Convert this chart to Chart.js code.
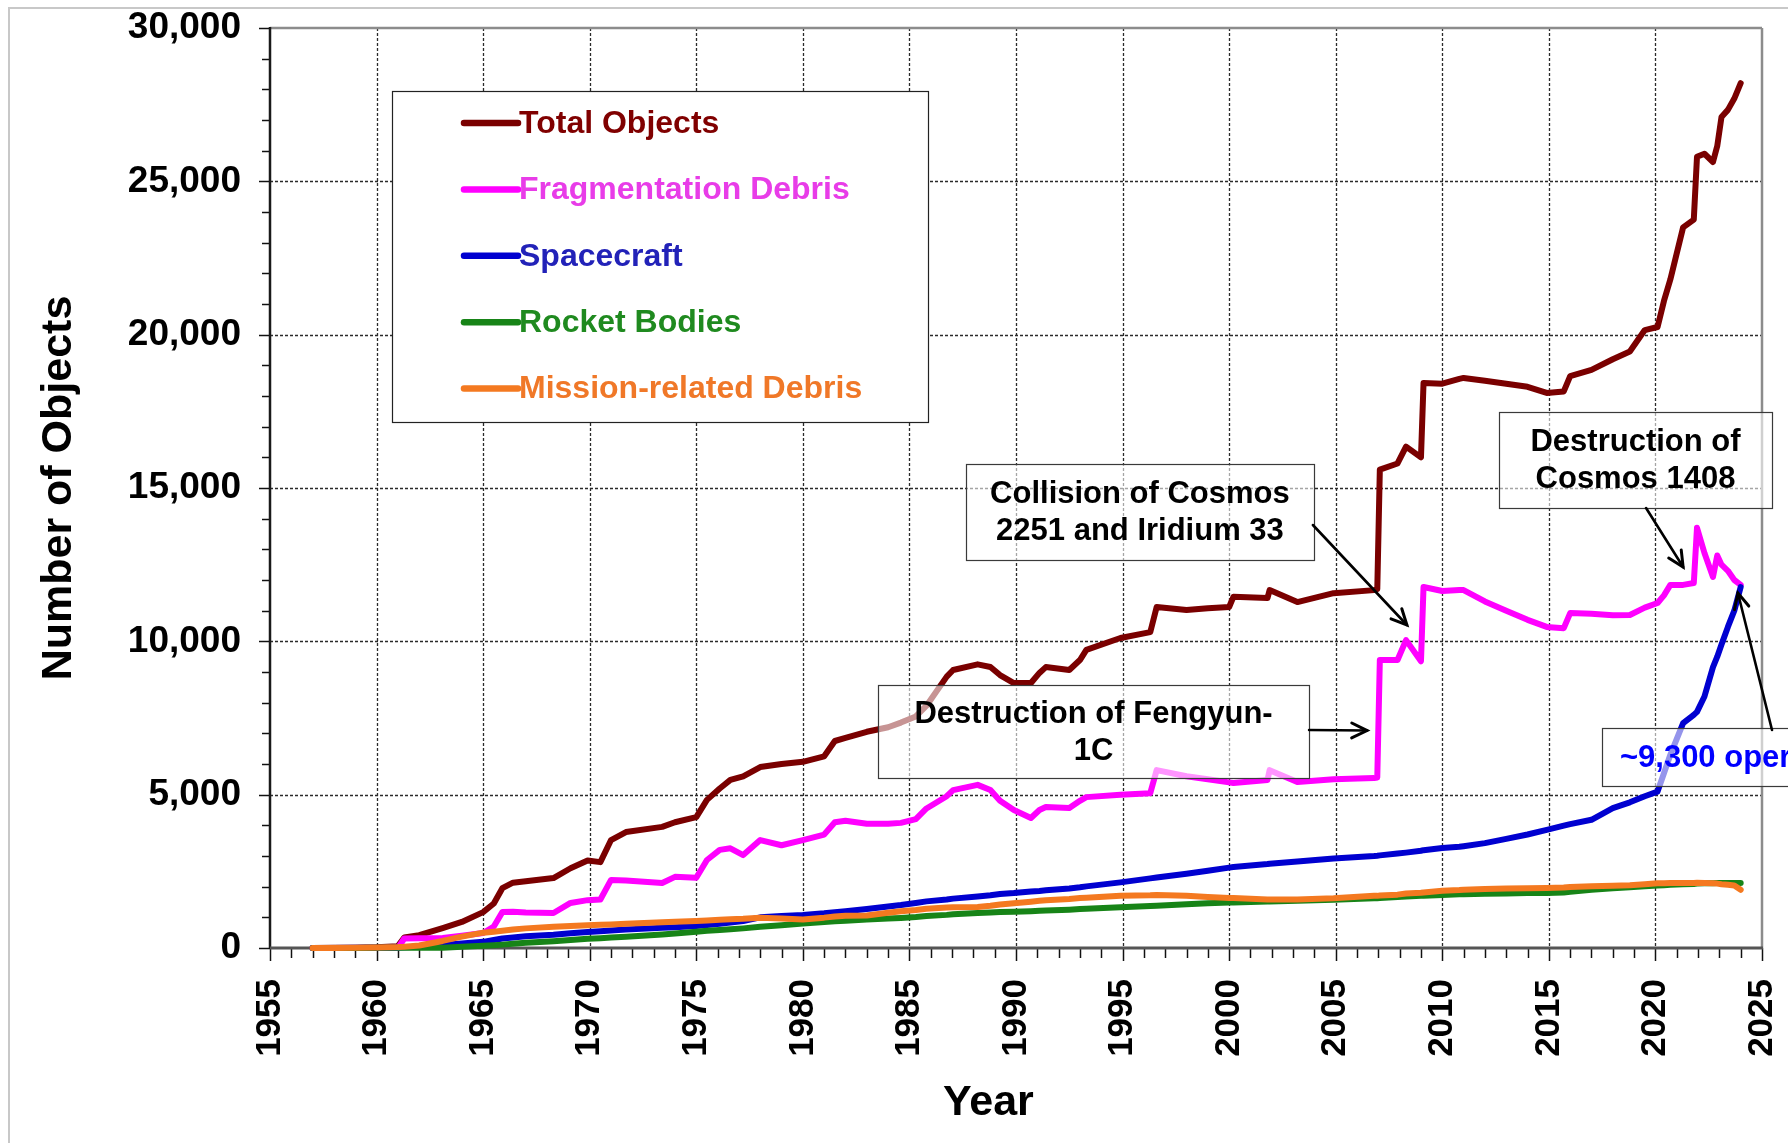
<!DOCTYPE html>
<html>
<head>
<meta charset="utf-8">
<script src="https://cdn.jsdelivr.net/npm/chart.js@4.4.1/dist/chart.umd.min.js"></script>
<style>
  html, body { margin: 0; padding: 0; background: #fff; }
  #wrap { width: 1788px; height: 1143px; position: relative; }
</style>
</head>
<body>
<div id="wrap"><canvas id="c" width="1788" height="1143"></canvas></div>
<script>
// ---------------- DATA ----------------
const years = [1957.0, 1958, 1959, 1960, 1961, 1961.3, 1962, 1963.1, 1964, 1965, 1965.5, 1965.9, 1966.4, 1967, 1968.3, 1969.1, 1969.9, 1970.5, 1971.0, 1971.7, 1973.4, 1974, 1975, 1975.5, 1976.1, 1976.6, 1977.2, 1978, 1979, 1980, 1981, 1981.5, 1982, 1983, 1984, 1984.6, 1985.3, 1985.8, 1986.75, 1987.05, 1988.2, 1988.8, 1989.25, 1989.9, 1990.7, 1991.1, 1991.4, 1992.5, 1993.0, 1993.3, 1994.9, 1996.3, 1996.6, 1998.0, 1999, 2000.0, 2000.2, 2001.8, 2001.9, 2003.2, 2004.9, 2006.8, 2006.95, 2007.07, 2007.9, 2008.3, 2009.0, 2009.12, 2010.0, 2010.8, 2011.0, 2012, 2013, 2014, 2014.9, 2015.7, 2016.0, 2017, 2018.0, 2018.8, 2019.5, 2020.1, 2020.4, 2020.7, 2021.3, 2021.8, 2021.95, 2022.3, 2022.7, 2022.9, 2023.1, 2023.4, 2023.7, 2024];

const totalObjects = [0, 5, 10, 25, 60, 340, 420, 650, 850, 1170, 1450, 1950, 2130, 2180, 2280, 2600, 2850, 2800, 3520, 3780, 3950, 4100, 4270, 4830, 5200, 5480, 5600, 5900, 6000, 6070, 6250, 6750, 6850, 7050, 7200, 7350, 7550, 7900, 8850, 9065, 9250, 9163, 8900, 8640, 8640, 8970, 9160, 9065, 9390, 9720, 10110, 10300, 11120, 11020, 11080, 11120, 11450, 11410, 11670, 11280, 11570, 11670, 11700, 15600, 15800, 16350, 16000, 18420, 18400, 18560, 18590, 18500, 18400, 18300, 18100, 18150, 18650, 18850, 19200, 19450, 20150, 20250, 21100, 21800, 23500, 23750, 25800, 25900, 25630, 26150, 27100, 27330, 27700, 28200];

const fragmentationDebris = [0, 0, 0, 0, 0, 310, 320, 330, 400, 490, 700, 1170, 1180, 1160, 1140, 1470, 1560, 1580, 2220, 2200, 2120, 2320, 2290, 2870, 3200, 3250, 3030, 3520, 3350, 3520, 3700, 4100, 4150, 4050, 4050, 4080, 4200, 4550, 4950, 5150, 5320, 5150, 4800, 4500, 4240, 4500, 4600, 4565, 4800, 4920, 5000, 5050, 5800, 5600, 5500, 5400, 5380, 5480, 5800, 5410, 5500, 5540, 5560, 9390, 9390, 10040, 9350, 11770, 11640, 11670, 11670, 11300, 11000, 10700, 10470, 10430, 10920, 10900, 10850, 10860, 11100, 11250, 11500, 11840, 11840, 11900, 13700, 12880, 12100, 12800, 12500, 12300, 12000, 11840];

const spacecraft = [0, 3, 5, 10, 20, 25, 40, 100, 150, 200, 260, 310, 340, 380, 430, 480, 520, 550, 570, 600, 660, 680, 720, 750, 790, 830, 880, 1000, 1040, 1076, 1130, 1170, 1200, 1270, 1350, 1400, 1470, 1520, 1580, 1610, 1680, 1720, 1760, 1790, 1840, 1860, 1880, 1940, 1980, 2010, 2140, 2270, 2300, 2420, 2520, 2620, 2640, 2740, 2750, 2820, 2920, 3000, 3010, 3020, 3080, 3110, 3170, 3190, 3260, 3300, 3320, 3420, 3560, 3700, 3850, 3990, 4040, 4180, 4560, 4750, 4950, 5100, 5700, 6300, 7330, 7600, 7700, 8200, 9160, 9500, 9900, 10470, 11000, 11770];

const rocketBodies = [0, 2, 3, 5, 8, 10, 10, 10, 40, 70, 90, 110, 140, 170, 220, 260, 300, 320, 340, 370, 440, 470, 530, 560, 590, 610, 640, 690, 740, 800, 850, 870, 890, 930, 960, 980, 1010, 1040, 1080, 1100, 1140, 1160, 1170, 1180, 1200, 1215, 1220, 1250, 1270, 1280, 1330, 1370, 1380, 1430, 1460, 1480, 1485, 1520, 1520, 1540, 1570, 1620, 1625, 1630, 1660, 1680, 1700, 1705, 1730, 1750, 1755, 1770, 1780, 1790, 1795, 1810, 1830, 1900, 1950, 1980, 2010, 2040, 2050, 2060, 2080, 2090, 2100, 2110, 2115, 2120, 2120, 2120, 2120, 2120];

const missionRelatedDebris = [0, 3, 5, 15, 30, 40, 80, 230, 370, 500, 530, 560, 600, 640, 690, 715, 740, 755, 770, 790, 840, 855, 880, 900, 920, 935, 950, 990, 960, 930, 990, 1030, 1050, 1060, 1150, 1200, 1240, 1280, 1320, 1330, 1340, 1380, 1420, 1460, 1510, 1540, 1560, 1600, 1630, 1640, 1700, 1720, 1730, 1700, 1660, 1630, 1630, 1580, 1580, 1580, 1620, 1700, 1700, 1710, 1740, 1780, 1800, 1810, 1870, 1890, 1900, 1920, 1940, 1950, 1960, 1970, 1990, 2010, 2030, 2050, 2080, 2110, 2115, 2120, 2120, 2120, 2125, 2120, 2110, 2100, 2080, 2060, 2040, 1900];

const seriesNames = ['Total Objects', 'Fragmentation Debris', 'Spacecraft', 'Rocket Bodies', 'Mission-related Debris'];
const xTicks = [1955, 1960, 1965, 1970, 1975, 1980, 1985, 1990, 1995, 2000, 2005, 2010, 2015, 2020, 2025];
const yTicks = [0, 5000, 10000, 15000, 20000, 25000, 30000];
const xTitle = 'Year';
const yTitle = 'Number of Objects';

// ---------------- STYLE ----------------
const FONT = "'Liberation Sans', Arial, Helvetica, sans-serif";
const lineColors = ['#7a0000', '#ff00ff', '#0000d0', '#178417', '#f47920'];
const textColors = ['#800000', '#e83ce8', '#2222b8', '#1f8a1f', '#f07828'];

// annotation boxes in data units (year / number of objects)
const notes = [
  { lines: ['Collision of Cosmos', '2251 and Iridium 33'], box: [1987.65, 15783, 2003.98, 12652], align: 'center', color: '#000',
    arrow: [2003.93, 13793, 2008.34, 10533] },
  { lines: ['Destruction of Fengyun-', '1C'], box: [1983.53, 8576, 2003.75, 5543], align: 'center', color: '#000',
    arrow: [2003.75, 7109, 2006.47, 7090] },
  { lines: ['Destruction of', 'Cosmos 1408'], box: [2012.66, 17478, 2025.47, 14348], align: 'center', color: '#000',
    arrow: [2019.56, 14348, 2021.30, 12424] },
  { lines: ['~9,300 operational'], box: [2017.49, 7174, 2026.9, 5283], align: 'left', color: '#0000ff',
    arrow: [2025.47, 7109, 2023.87, 11576] }
];

function makeData(arr) { return years.map((x, i) => ({ x: x, y: arr[i] })); }
const seriesValues = [totalObjects, fragmentationDebris, spacecraft, rocketBodies, missionRelatedDebris];

const decor = {
  id: 'decor',
  beforeDraw(chart) {
    const ctx = chart.ctx;
    ctx.save();
    ctx.fillStyle = '#fff';
    ctx.fillRect(0, 0, chart.width, chart.height);
    ctx.strokeStyle = '#c8c8c8';
    ctx.lineWidth = 2;
    ctx.strokeRect(9, 8, chart.width + 40, chart.height + 40);
    ctx.restore();
  },
  beforeDatasetsDraw(chart) {
    const { ctx, chartArea: a, scales: { x, y } } = chart;
    const seg = (x1, y1, x2, y2) => { ctx.beginPath(); ctx.moveTo(x1, y1); ctx.lineTo(x2, y2); ctx.stroke(); };
    ctx.save();
    // dashed grid
    ctx.strokeStyle = '#2a2a2a';
    ctx.lineWidth = 1.3;
    ctx.setLineDash([3, 2]);
    xTicks.forEach(v => {
      if (v > x.min && v < x.max) { const px = Math.round(x.getPixelForValue(v)) + 0.5; seg(px, a.top, px, a.bottom); }
    });
    yTicks.forEach(v => {
      if (v > y.min && v < y.max) { const py = Math.round(y.getPixelForValue(v)) + 0.5; seg(a.left, py, a.right, py); }
    });
    ctx.setLineDash([]);
    // minor tick marks
    ctx.strokeStyle = '#111';
    ctx.lineWidth = 1.5;
    for (let v = x.min; v <= x.max; v += 1) {
      const px = Math.round(x.getPixelForValue(v)) + 0.5;
      seg(px, a.bottom, px, a.bottom + (v % 5 === 0 ? 13 : 10));
    }
    for (let v = y.min; v <= y.max; v += 1000) {
      const py = Math.round(y.getPixelForValue(v)) + 0.5;
      seg(a.left - (v % 5000 === 0 ? 11 : 8), py, a.left, py);
    }
    // frame
    ctx.strokeStyle = '#8c8c8c';
    ctx.lineWidth = 2.5;
    seg(a.left, a.top, a.right, a.top);
    seg(a.right, a.top, a.right, a.bottom);
    ctx.strokeStyle = '#1a1a1a';
    ctx.lineWidth = 2.5;
    seg(a.left, a.top - 1, a.left, a.bottom);
    ctx.strokeStyle = '#555';
    ctx.lineWidth = 3;
    seg(a.left, a.bottom, a.right + 1, a.bottom);
    // x axis title (slightly left of centre, as in the original)
    ctx.fillStyle = '#000';
    ctx.font = 'bold 43px ' + FONT;
    ctx.textAlign = 'center';
    ctx.textBaseline = 'middle';
    ctx.fillText(xTitle, a.left + (a.right - a.left) * 0.4815, chart.height - 40);
    ctx.restore();
  },
  afterDatasetsDraw(chart) {
    const { ctx, chartArea: a, scales: { x, y } } = chart;
    ctx.save();
    // ---- legend ----
    const L = { x: a.left + 122, y: a.top + 63, w: 536, h: 331 };
    ctx.fillStyle = '#fff';
    ctx.fillRect(L.x, L.y, L.w, L.h);
    ctx.strokeStyle = '#222';
    ctx.lineWidth = 1.2;
    ctx.strokeRect(L.x + 0.5, L.y + 0.5, L.w, L.h);
    ctx.font = 'bold 32px ' + FONT;
    ctx.textBaseline = 'middle';
    ctx.textAlign = 'left';
    seriesNames.forEach((name, i) => {
      const ry = L.y + 32 + i * 66.4;
      ctx.strokeStyle = lineColors[i];
      ctx.lineWidth = 6.5;
      ctx.lineCap = 'round';
      ctx.beginPath(); ctx.moveTo(L.x + 72, ry); ctx.lineTo(L.x + 126, ry); ctx.stroke();
      ctx.fillStyle = textColors[i];
      ctx.fillText(name, L.x + 127, ry + 1);
    });
    // ---- annotation boxes ----
    notes.forEach(n => {
      const bx0 = x.getPixelForValue(n.box[0]), by0 = y.getPixelForValue(n.box[1]);
      const bx1 = x.getPixelForValue(n.box[2]), by1 = y.getPixelForValue(n.box[3]);
      ctx.fillStyle = 'rgba(255,255,255,0.58)';
      ctx.fillRect(bx0, by0, bx1 - bx0, by1 - by0);
      ctx.strokeStyle = '#3a3a3a';
      ctx.lineWidth = 1.2;
      ctx.strokeRect(Math.round(bx0) + 0.5, Math.round(by0) + 0.5, Math.round(bx1 - bx0), Math.round(by1 - by0));
      ctx.fillStyle = n.color;
      ctx.font = 'bold 31px ' + FONT;
      ctx.textBaseline = 'middle';
      const lh = 37;
      const cy = (by0 + by1) / 2 - (n.lines.length - 1) * lh / 2;
      n.lines.forEach((t, k) => {
        if (n.align === 'center') { ctx.textAlign = 'center'; ctx.fillText(t, (bx0 + bx1) / 2, cy + k * lh + 1); }
        else { ctx.textAlign = 'left'; ctx.fillText(t, bx0 + 18, cy + k * lh + 1); }
      });
      // arrow
      const ax0 = x.getPixelForValue(n.arrow[0]), ay0 = y.getPixelForValue(n.arrow[1]);
      const ax1 = x.getPixelForValue(n.arrow[2]), ay1 = y.getPixelForValue(n.arrow[3]);
      ctx.strokeStyle = '#000';
      ctx.lineWidth = 2.6;
      ctx.lineCap = 'round';
      ctx.beginPath(); ctx.moveTo(ax0, ay0); ctx.lineTo(ax1, ay1); ctx.stroke();
      const ang = Math.atan2(ay1 - ay0, ax1 - ax0);
      const hl = 17, ha = 0.45;
      ctx.lineWidth = 3;
      ctx.beginPath();
      ctx.moveTo(ax1 - hl * Math.cos(ang - ha), ay1 - hl * Math.sin(ang - ha));
      ctx.lineTo(ax1, ay1);
      ctx.lineTo(ax1 - hl * Math.cos(ang + ha), ay1 - hl * Math.sin(ang + ha));
      ctx.stroke();
    });
    ctx.restore();
  }
};

const drawOrder = [4, 3, 2, 1, 0];
const datasets = seriesNames.map((name, i) => ({
  label: name,
  data: makeData(seriesValues[i]),
  borderColor: lineColors[i],
  backgroundColor: lineColors[i],
  borderWidth: 6,
  pointRadius: 0,
  tension: 0,
  borderJoinStyle: 'round',
  borderCapStyle: 'round',
  fill: false,
  clip: false,
  order: drawOrder[i]
}));

function zeroPad(s) { s.paddingLeft = 0; s.paddingRight = 0; s.paddingTop = 0; s.paddingBottom = 0; }

new Chart(document.getElementById('c'), {
  type: 'line',
  data: { datasets: datasets },
  plugins: [decor],
  options: {
    responsive: false,
    devicePixelRatio: 1,
    animation: false,
    layout: { padding: { left: 0, top: 28, right: 26, bottom: 0 } },
    plugins: { legend: { display: false }, tooltip: { enabled: false } },
    scales: {
      x: {
        type: 'linear',
        min: 1955,
        max: 2025,
        afterBuildTicks: s => { s.ticks = xTicks.map(v => ({ value: v })); },
        afterFit: s => { s.height = 195; zeroPad(s); },
        grid: { display: false },
        border: { display: false },
        ticks: {
          autoSkip: false,
          minRotation: 90,
          maxRotation: 90,
          padding: 23,
          color: '#000',
          font: { family: FONT, size: 35, weight: 'bold' },
          callback: v => String(v)
        },
        title: { display: false, text: xTitle }
      },
      y: {
        type: 'linear',
        min: 0,
        max: 30000,
        afterBuildTicks: s => { s.ticks = yTicks.map(v => ({ value: v })); },
        afterFit: s => { s.width = 270; zeroPad(s); },
        grid: { display: false },
        border: { display: false },
        ticks: {
          padding: 21,
          color: '#000',
          font: { family: FONT, size: 37, weight: 'bold' },
          callback: v => v.toLocaleString('en-US')
        },
        title: {
          display: true,
          text: yTitle,
          color: '#000',
          font: { family: FONT, size: 43, weight: 'bold' },
          padding: { top: 33, bottom: 0 }
        }
      }
    }
  }
});
</script>
</body>
</html>
